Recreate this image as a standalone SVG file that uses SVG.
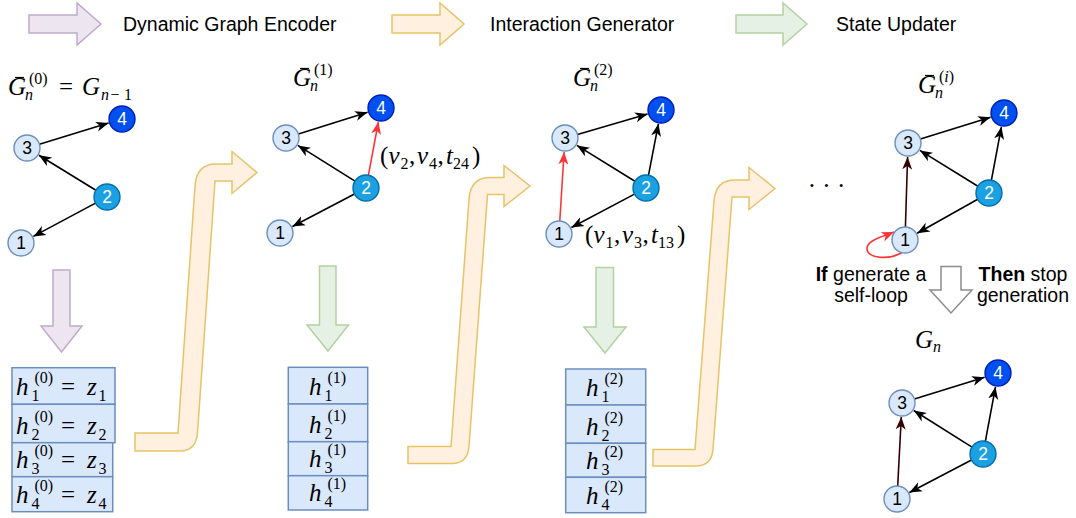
<svg xmlns="http://www.w3.org/2000/svg" width="1076" height="518" viewBox="0 0 1076 518">
<defs>
<style>
.lt{fill:#dae8fc;stroke:#6c8ebf;stroke-width:1.4}
.md{fill:#1ba1e2;stroke:#006eaf;stroke-width:1.4}
.dk{fill:#0050ef;stroke:#001dbc;stroke-width:1.4}
.nl{font-family:"Liberation Sans",Arial,sans-serif;font-size:17.5px;text-anchor:middle;fill:#000}
.wt{fill:#fff}
.e{stroke:#000;stroke-width:1.6;fill:none;marker-end:url(#ab)}
.er{stroke:#ff3333;marker-end:url(#ar)}
.ed{stroke:#330000;marker-end:url(#ad)}
.m{font-family:"Liberation Serif","Times New Roman",serif;font-style:italic;font-size:25px;fill:#000}
.u{font-style:normal}
.s{font-size:16px}
.bx{fill:#dae8fc;stroke:#6c8ebf;stroke-width:1.5}
.lbl{font-family:"Liberation Sans",Arial,sans-serif;font-size:19.5px;fill:#000}
.pu{fill:#ede6f1;stroke:#c0abca;stroke-width:1.5}
.or{fill:#fff0e0;stroke:#e7c366;stroke-width:1.5}
.gr{fill:#e6f1e5;stroke:#b4d1a3;stroke-width:1.5}
.bar{stroke:#000;stroke-width:1.2}
</style>
<marker id="ab" markerWidth="13" markerHeight="11" refX="12.5" refY="5.5" orient="auto" markerUnits="userSpaceOnUse"><path d="M0,0.5 L12.5,5.5 L0,10.5 L3.5,5.5 Z" fill="#000"/></marker>
<marker id="ar" markerWidth="13" markerHeight="11" refX="12.5" refY="5.5" orient="auto" markerUnits="userSpaceOnUse"><path d="M0,0.5 L12.5,5.5 L0,10.5 L3.5,5.5 Z" fill="#ff3333"/></marker>
<marker id="ad" markerWidth="13" markerHeight="11" refX="12.5" refY="5.5" orient="auto" markerUnits="userSpaceOnUse"><path d="M0,0.5 L12.5,5.5 L0,10.5 L3.5,5.5 Z" fill="#330000"/></marker>
</defs>
<rect width="1076" height="518" fill="#fff"/>

<g id="legend">
<path class="pu" d="M29,15 L77,15 L77,3 L101,24 L77,45 L77,33 L29,33 Z"/>
<text class="lbl" x="123" y="30.5">Dynamic Graph Encoder</text>
<path class="or" d="M392,15 L440,15 L440,3 L464,24 L440,45 L440,33 L392,33 Z"/>
<text class="lbl" x="490" y="30.5">Interaction Generator</text>
<path class="gr" d="M736,15 L783,15 L783,3 L807,24 L783,45 L783,33 L736,33 Z"/>
<text class="lbl" x="836" y="30.5">State Updater</text>
</g>

<g id="flow-arrows">
<path class="pu" d="M53,270 L70,270 L70,326 L82,326 L61.5,352 L41,326 L53,326 Z"/>
<path class="or" d="M135,433 L178,433 L195,186 Q196.5,164 216,164 L232,164 L232,151.5 L257,172.5 L232,193.5 L232,181 L215,181 L197.5,433 Q196,451 180,451 L135,451 Z"/>
<path class="gr" d="M319.5,266 L336,266 L336,325 L348.5,325 L328,351 L307,325 L319.5,325 Z"/>
<path class="or" d="M408,446.5 L451,446.5 L469,199 Q470.5,177.5 490,177.5 L504,177.5 L504,165.5 L530,186 L504,206.5 L504,194.5 L487.5,194.5 L469,446.5 Q467.5,463.5 452,463.5 L408,463.5 Z"/>
<path class="gr" d="M596,267.5 L613.5,267.5 L613.5,327 L626,327 L605,353 L584,327 L596,327 Z"/>
<path class="or" d="M653,449.5 L695,449.5 L714,201 Q715.5,180 735,180 L749,180 L749,167.5 L775,188.5 L749,209.5 L749,197 L732,197 L713,449.5 Q711.5,466 696,466 L653,466 Z"/>
<path d="M941,266.5 L961,266.5 L961,290 L972,290 L951,313 L930,290 L941,290 Z" fill="#fff" stroke="#8c8c8c" stroke-width="1.5"/>
</g>

<g id="connectors">
<line class="e" x1="39.4" y1="144.2" x2="108.6" y2="123.1"/>
<line class="e" x1="95.9" y1="190.2" x2="38.9" y2="155.3"/>
<line class="e" x1="95.5" y1="203.1" x2="33.3" y2="236.4"/>
<line class="e" x1="298.4" y1="134.1" x2="367.6" y2="112.2"/>
<line class="e" x1="355" y1="181.1" x2="297.9" y2="145.4"/>
<line class="e" x1="354.5" y1="194" x2="292.4" y2="226.5"/>
<line class="e er" x1="368.4" y1="175.2" x2="378.4" y2="121.8"/>
<line class="e" x1="577.5" y1="134.4" x2="647.6" y2="113.9"/>
<line class="e" x1="648.5" y1="175.2" x2="658.4" y2="123.8"/>
<line class="e" x1="634.9" y1="181.2" x2="576.9" y2="145.4"/>
<line class="e" x1="634.5" y1="194.1" x2="571.4" y2="227.5"/>
<line class="e er" x1="559.8" y1="221" x2="564.1" y2="152"/>
<line class="e" x1="920.4" y1="139.1" x2="990.6" y2="117.2"/>
<line class="e" x1="991.4" y1="180.2" x2="1001.4" y2="126.8"/>
<line class="e" x1="977.9" y1="186.2" x2="919.9" y2="150.4"/>
<line class="e" x1="977.7" y1="199.3" x2="917.2" y2="233.2"/>
<line class="e ed" x1="905.4" y1="227" x2="907.6" y2="157"/>
<path class="e er" d="M902,252.5 C890,260 866,259 867,248 C868,240 882,237 894,232"/>
<line class="e" x1="914.4" y1="399.1" x2="984.6" y2="377.2"/>
<line class="e" x1="985.4" y1="441.2" x2="995.5" y2="386.8"/>
<line class="e" x1="972" y1="447.1" x2="913.8" y2="410.5"/>
<line class="e" x1="971.5" y1="460" x2="909.4" y2="492.5"/>
<line class="e ed" x1="897.7" y1="486" x2="901.3" y2="417"/>
</g>

<g id="graph0">
<text class="m" font-size="23" x="8" y="95">G</text><line class="bar" x1="15" y1="77.5" x2="24" y2="77.5"/>
<text class="m s" x="25" y="100">n</text><text class="m u s" x="29" y="84">(0)</text>
<text class="m u" font-size="22" x="59" y="95">=</text>
<text class="m" font-size="23" x="82" y="95">G</text>
<text class="m s" x="101" y="100">n</text><text class="m u s" x="110.5" y="100">−</text><text class="m u s" x="124" y="100">1</text>
<g id="g0n4"><circle class="dk" cx="122" cy="119" r="13"/><text class="nl wt" x="122" y="125">4</text></g>
<g id="g0n3"><circle class="lt" cx="27" cy="148" r="13"/><text class="nl" x="27" y="154">3</text></g>
<g id="g0n2"><circle class="md" cx="107" cy="197" r="13"/><text class="nl wt" x="107" y="203">2</text></g>
<g id="g0n1"><circle class="lt" cx="21" cy="243" r="13"/><text class="nl" x="21" y="249">1</text></g>
</g>

<g id="graph1">
<text class="m" font-size="23" x="293" y="86">G</text><line class="bar" x1="300" y1="68.5" x2="309" y2="68.5"/>
<text class="m s" x="310" y="91">n</text><text class="m u s" x="314" y="75">(1)</text>
<g id="g1n4"><circle class="dk" cx="381" cy="108" r="13"/><text class="nl wt" x="381" y="114">4</text></g>
<g id="g1n3"><circle class="lt" cx="286" cy="138" r="13"/><text class="nl" x="286" y="144">3</text></g>
<g id="g1n2"><circle class="md" cx="366" cy="188" r="13"/><text class="nl wt" x="366" y="194">2</text></g>
<g id="g1n1"><circle class="lt" cx="280" cy="233" r="13"/><text class="nl" x="280" y="239">1</text></g>
<text class="m"><tspan class="u" x="380" y="164">(</tspan><tspan x="388.5" y="164">v</tspan><tspan class="u s" x="400.5" y="169">2</tspan><tspan class="u" x="409" y="164">,</tspan><tspan x="417" y="164">v</tspan><tspan class="u s" x="429" y="169">4</tspan><tspan class="u" x="437.5" y="164">,</tspan><tspan x="446" y="164">t</tspan><tspan class="u s" x="453" y="169">24</tspan><tspan class="u" x="472" y="164">)</tspan></text>
</g>

<g id="graph2">
<text class="m" font-size="23" x="573" y="86">G</text><line class="bar" x1="580" y1="68.5" x2="589" y2="68.5"/>
<text class="m s" x="590" y="91">n</text><text class="m u s" x="594" y="75">(2)</text>
<g id="g2n4"><circle class="dk" cx="661" cy="110" r="13"/><text class="nl wt" x="661" y="116">4</text></g>
<g id="g2n3"><circle class="lt" cx="565" cy="138" r="13"/><text class="nl" x="565" y="144">3</text></g>
<g id="g2n2"><circle class="md" cx="646" cy="188" r="13"/><text class="nl wt" x="646" y="194">2</text></g>
<g id="g2n1"><circle class="lt" cx="559" cy="234" r="13"/><text class="nl" x="559" y="240">1</text></g>
<text class="m"><tspan class="u" x="585" y="243">(</tspan><tspan x="593.5" y="243">v</tspan><tspan class="u s" x="605.5" y="248">1</tspan><tspan class="u" x="614" y="243">,</tspan><tspan x="622" y="243">v</tspan><tspan class="u s" x="634" y="248">3</tspan><tspan class="u" x="642.5" y="243">,</tspan><tspan x="651" y="243">t</tspan><tspan class="u s" x="658" y="248">13</tspan><tspan class="u" x="677" y="243">)</tspan></text>
</g>

<g id="graphi">
<text class="m" font-size="23" x="918" y="93">G</text><line class="bar" x1="925" y1="75.5" x2="934" y2="75.5"/>
<text class="m s" x="935" y="98">n</text><text class="m u s" x="939" y="82">(<tspan font-style="italic">i</tspan>)</text>
<text class="m u" font-size="18" x="826.5" y="194" text-anchor="middle">· · ·</text>
<g id="gin4"><circle class="dk" cx="1004" cy="113" r="13"/><text class="nl wt" x="1004" y="119">4</text></g>
<g id="gin3"><circle class="lt" cx="908" cy="143" r="13"/><text class="nl" x="908" y="149">3</text></g>
<g id="gin2"><circle class="md" cx="989" cy="193" r="13"/><text class="nl wt" x="989" y="199">2</text></g>
<g id="gin1"><circle class="lt" cx="905" cy="240" r="13"/><text class="nl" x="905" y="246">1</text></g>
<text class="lbl" text-anchor="middle"><tspan x="871" y="280.5"><tspan font-weight="bold">If</tspan> generate a</tspan><tspan x="871" y="301.5">self-loop</tspan></text>
<text class="lbl" text-anchor="middle"><tspan x="1023" y="280.5"><tspan font-weight="bold">Then</tspan> stop</tspan><tspan x="1023" y="301.5">generation</tspan></text>
</g>

<g id="graphn">
<text class="m" font-size="23" x="915" y="348">G</text><text class="m s" x="933" y="352">n</text>
<g id="gnn4"><circle class="dk" cx="998" cy="373" r="13"/><text class="nl wt" x="998" y="379">4</text></g>
<g id="gnn3"><circle class="lt" cx="902" cy="403" r="13"/><text class="nl" x="902" y="409">3</text></g>
<g id="gnn2"><circle class="md" cx="983" cy="454" r="13"/><text class="nl wt" x="983" y="460">2</text></g>
<g id="gnn1"><circle class="lt" cx="897" cy="499" r="13"/><text class="nl" x="897" y="505">1</text></g>
</g>

<g id="states0">
<rect class="bx" x="12" y="367.7" width="103" height="36.6"/>
<rect class="bx" x="12" y="404.3" width="103" height="38.4"/>
<rect class="bx" x="12" y="442.7" width="100.7" height="34"/>
<rect class="bx" x="12" y="476.7" width="100.7" height="35"/>
<text class="m" font-size="27"><tspan x="16" y="395">h</tspan><tspan class="u s" x="31.5" y="401">1</tspan><tspan class="u s" x="34.5" y="383">(0)</tspan><tspan class="u" x="61" y="395">=</tspan><tspan x="87" y="395">z</tspan><tspan class="u s" x="98.5" y="401">1</tspan></text>
<text class="m" font-size="27"><tspan x="16" y="433.5">h</tspan><tspan class="u s" x="31.5" y="439.5">2</tspan><tspan class="u s" x="34.5" y="421.5">(0)</tspan><tspan class="u" x="61" y="433.5">=</tspan><tspan x="87" y="433.5">z</tspan><tspan class="u s" x="98.5" y="439.5">2</tspan></text>
<text class="m" font-size="27"><tspan x="16" y="467.5">h</tspan><tspan class="u s" x="31.5" y="473.5">3</tspan><tspan class="u s" x="34.5" y="455.5">(0)</tspan><tspan class="u" x="61" y="467.5">=</tspan><tspan x="87" y="467.5">z</tspan><tspan class="u s" x="98.5" y="473.5">3</tspan></text>
<text class="m" font-size="27"><tspan x="16" y="502.5">h</tspan><tspan class="u s" x="31.5" y="508.5">4</tspan><tspan class="u s" x="34.5" y="490.5">(0)</tspan><tspan class="u" x="61" y="502.5">=</tspan><tspan x="87" y="502.5">z</tspan><tspan class="u s" x="98.5" y="508.5">4</tspan></text>
</g>

<g id="states1">
<rect class="bx" x="288.3" y="367.3" width="79.4" height="36.7"/>
<rect class="bx" x="288.3" y="404" width="79.4" height="37.7"/>
<rect class="bx" x="288.3" y="441.7" width="79.4" height="34"/>
<rect class="bx" x="288.3" y="475.7" width="79.4" height="34.3"/>
<text class="m" font-size="27"><tspan x="309" y="395">h</tspan><tspan class="u s" x="324.5" y="401">1</tspan><tspan class="u s" x="327.5" y="383">(1)</tspan></text>
<text class="m" font-size="27"><tspan x="309" y="432.5">h</tspan><tspan class="u s" x="324.5" y="438.5">2</tspan><tspan class="u s" x="327.5" y="420.5">(1)</tspan></text>
<text class="m" font-size="27"><tspan x="309" y="466.5">h</tspan><tspan class="u s" x="324.5" y="472.5">3</tspan><tspan class="u s" x="327.5" y="454.5">(1)</tspan></text>
<text class="m" font-size="27"><tspan x="309" y="501">h</tspan><tspan class="u s" x="324.5" y="507">4</tspan><tspan class="u s" x="327.5" y="489">(1)</tspan></text>
</g>

<g id="states2">
<rect class="bx" x="565.7" y="369" width="80" height="36"/>
<rect class="bx" x="565.7" y="405" width="80" height="38.3"/>
<rect class="bx" x="565.7" y="443.3" width="80" height="34"/>
<rect class="bx" x="565.7" y="477.3" width="80" height="35.4"/>
<text class="m" font-size="27"><tspan x="586" y="396">h</tspan><tspan class="u s" x="601.5" y="402">1</tspan><tspan class="u s" x="604.5" y="384">(2)</tspan></text>
<text class="m" font-size="27"><tspan x="586" y="434.5">h</tspan><tspan class="u s" x="601.5" y="440.5">2</tspan><tspan class="u s" x="604.5" y="422.5">(2)</tspan></text>
<text class="m" font-size="27"><tspan x="586" y="468.5">h</tspan><tspan class="u s" x="601.5" y="474.5">3</tspan><tspan class="u s" x="604.5" y="456.5">(2)</tspan></text>
<text class="m" font-size="27"><tspan x="586" y="503.5">h</tspan><tspan class="u s" x="601.5" y="509.5">4</tspan><tspan class="u s" x="604.5" y="491.5">(2)</tspan></text>
</g>
</svg>
